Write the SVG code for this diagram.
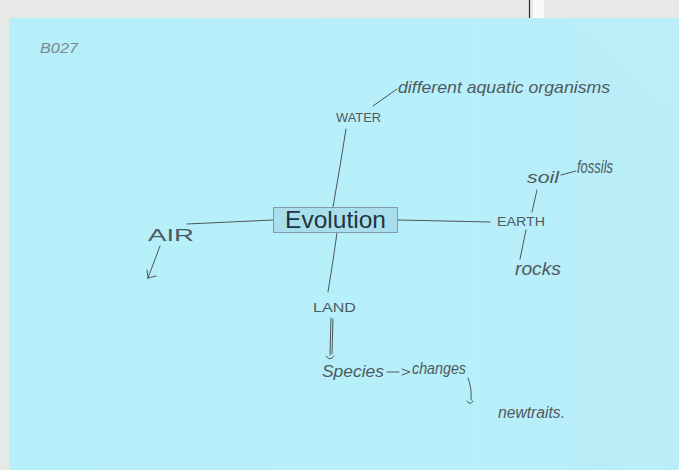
<svg xmlns="http://www.w3.org/2000/svg" width="679" height="470" viewBox="0 0 679 470">
  <defs>
    <style>
      .hand { font-family: "Liberation Sans", "DejaVu Sans", sans-serif; font-style: italic; fill: #4f5a5e; }
      .caps { font-family: "Liberation Sans", "DejaVu Sans", sans-serif; fill: #4f5a5e; }
      .pencil { fill: none; stroke: #4d5659; stroke-width: 1; stroke-linecap: round; stroke-linejoin: round; }
      .title { font-family: "Liberation Sans", Arial, sans-serif; font-size: 24.5px; fill: #1d3540; }
    </style>
    <linearGradient id="paperShade" x1="0" y1="0" x2="1" y2="0">
      <stop offset="0" stop-color="#b5eff9"/>
      <stop offset="0.7" stop-color="#b7effa"/>
      <stop offset="1" stop-color="#baedf8"/>
    </linearGradient>
  </defs>

  <!-- scanner bed and sheet -->
  <rect x="0" y="0" width="679" height="470" fill="#e7e9e6"/>
  <line x1="529.5" y1="0" x2="529.5" y2="19" stroke="#2a2a2a" stroke-width="1.2"/>
  <rect x="533" y="0" width="11" height="19" fill="#fafafa"/>
  <rect x="9" y="18" width="670" height="452" fill="url(#paperShade)"/>
  <polygon points="560,18 679,18 679,120" fill="#c0f2fb" opacity="0.25"/>

  <!-- sheet label -->
  <text x="40" y="53" class="hand" font-size="15" style="fill:#7d898d" textLength="38" lengthAdjust="spacingAndGlyphs">B027</text>

  <!-- connectors -->
  <g id="connectors">
    <path class="pencil" d="M346,129 Q340,168 333,207"/>
    <path class="pencil" d="M337,233 Q333,262 328,292"/>
    <path class="pencil" d="M187,224 L273,220"/>
    <path class="pencil" d="M398,220 L490,222"/>
    <path class="pencil" d="M373,106 L397,89"/>
    <!-- AIR arrow -->
    <path class="pencil" d="M160,246 L148,278 M148,278 L147,270 M148,278 L156,276"/>
    <!-- EARTH links -->
    <path class="pencil" d="M532,212 L537,190"/>
    <path class="pencil" d="M561,175 L576,171"/>
    <path class="pencil" d="M526,230 L520,259"/>
    <!-- LAND arrow -->
    <path class="pencil" d="M331,318 L330,355 M333,319 L332,354 M326,356 Q330,362 334,356"/>
    <!-- species to changes -->
    <path class="pencil" d="M387,372 L399,372 M402,369 L410,372 L402,375"/>
    <!-- changes to new traits -->
    <path class="pencil" d="M468,378 Q472,388 471,400 M467,401 Q470,406 473,401"/>
  </g>

  <g id="evolution">
    <rect x="273.5" y="207.5" width="124" height="25" fill="#a9dfec" stroke="#7f9ea7" stroke-width="1"/>
    <text x="335.5" y="228" class="title" text-anchor="middle">Evolution</text>
  </g>

  <g id="water">
    <text x="336" y="122" class="caps" font-size="13" textLength="45" lengthAdjust="spacingAndGlyphs">WATER</text>
  </g>
  <g id="aquatic">
    <text x="398" y="93" class="hand" font-size="17" textLength="212" lengthAdjust="spacingAndGlyphs">different aquatic organisms</text>
  </g>

  <g id="air">
    <text x="148" y="241" class="caps" font-size="16" textLength="46" lengthAdjust="spacingAndGlyphs">AIR</text>
  </g>

  <g id="earth">
    <text x="497" y="226" class="caps" font-size="12" textLength="48" lengthAdjust="spacingAndGlyphs">EARTH</text>
  </g>
  <g id="soil">
    <text x="527" y="183" class="hand" font-size="16" textLength="32" lengthAdjust="spacingAndGlyphs">soil</text>
  </g>
  <g id="fossils">
    <text x="577" y="173" class="hand" font-size="18" textLength="36" lengthAdjust="spacingAndGlyphs">fossils</text>
  </g>
  <g id="rocks">
    <text x="515" y="275" class="hand" font-size="18" textLength="46" lengthAdjust="spacingAndGlyphs">rocks</text>
  </g>

  <g id="land">
    <text x="313" y="312" class="caps" font-size="13" textLength="43" lengthAdjust="spacingAndGlyphs">LAND</text>
  </g>
  <g id="species">
    <text x="322" y="377" class="hand" font-size="17" textLength="62" lengthAdjust="spacingAndGlyphs">Species</text>
  </g>
  <g id="changes">
    <text x="412" y="374" class="hand" font-size="17" textLength="54" lengthAdjust="spacingAndGlyphs">changes</text>
  </g>
  <g id="newtraits">
    <text x="498" y="418" class="hand" font-size="16" textLength="67" lengthAdjust="spacingAndGlyphs">newtraits.</text>
  </g>
</svg>
